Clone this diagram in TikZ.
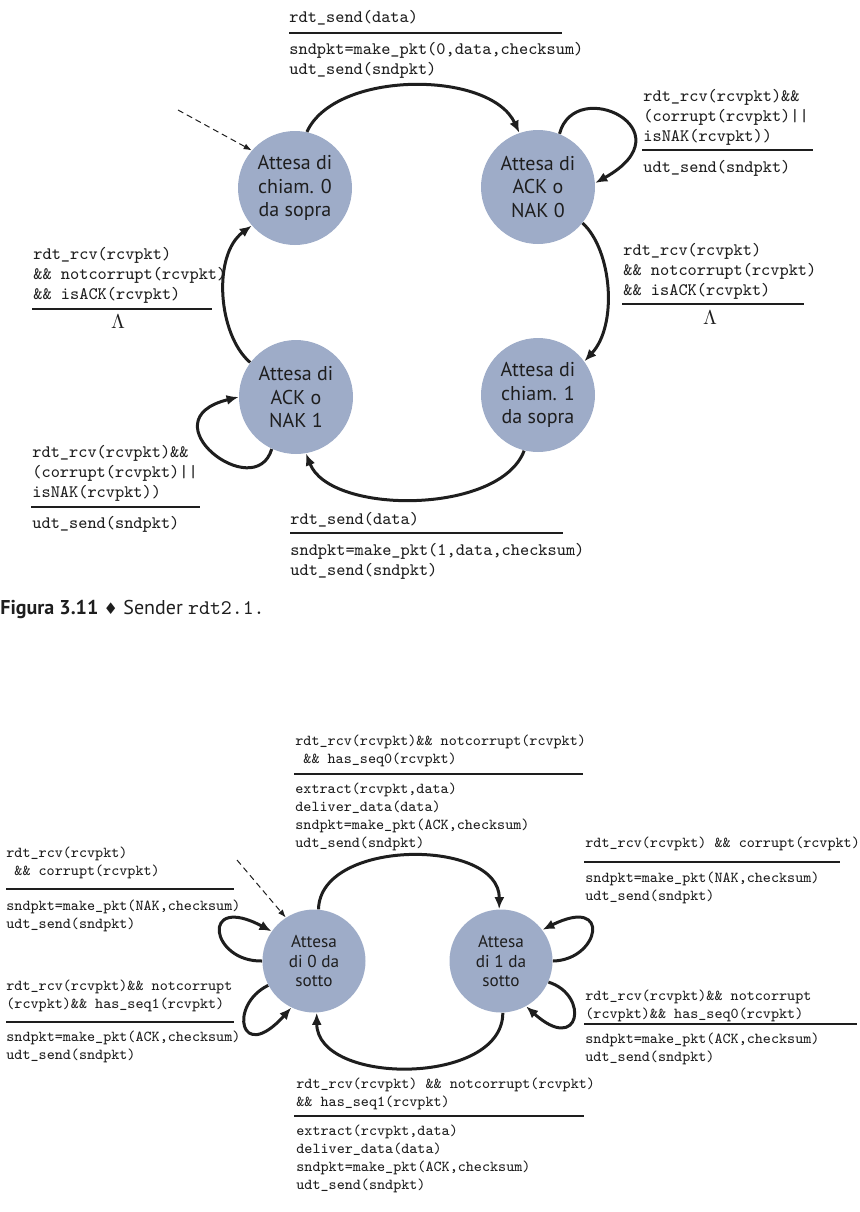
\documentclass[tikz,border=0pt]{standalone}
\usepackage{fontspec}
\setsansfont{PT Sans}
\newfontfamily\symbfont{DejaVu Sans}
\usetikzlibrary{arrows.meta,calc}
\definecolor{statefill}{RGB}{158,172,200}
\definecolor{ink}{RGB}{30,30,30}

\begin{document}
\begin{tikzpicture}[
    x=0.5pt, y=-0.5pt,
    fsmstate/.style={
      circle,
      fill=statefill,
      inner sep=0pt,
      minimum size=57pt,
      align=center,
      text=ink,
      font=\sffamily\fontsize{10}{11.8}\selectfont
    },
    fsmsmall/.style={
      fsmstate,
      minimum size=51.5pt,
      font=\sffamily\fontsize{8.6}{9.8}\selectfont
    },
    guard/.style={
      anchor=north west,
      inner sep=0pt,
      align=left,
      text=ink,
      font=\ttfamily\fontsize{8.75}{10}\selectfont
    },
    sguard/.style={guard, font=\ttfamily\fontsize{7.6}{9}\selectfont},
    guardline/.style={line width=0.9pt, draw=ink},
    trans/.style={line width=1.5pt, draw=ink, -{Latex[length=6pt,width=5pt]}},
    initarr/.style={line width=0.5pt, draw=ink, dash pattern=on 3pt off 2pt,
      -{Latex[length=4pt,width=3pt]}}
  ]

  \useasboundingbox (0,0) rectangle (860,1212);

  % Sender: four states on a square
  \node[fsmstate] (c0) at (295,188) {Attesa di\\chiam. 0\\da sopra};
  \node[fsmstate] (k0) at (538,187) {Attesa di\\ACK o\\NAK 0};
  \node[fsmstate] (k1) at (296,397) {Attesa di\\ACK o\\NAK 1};
  \node[fsmstate] (c1) at (538,395) {Attesa di\\chiam. 1\\da sopra};

  % Sender transitions
  \coordinate (start0) at (178,110);
  \draw[initarr] (start0) -- (c0.139);
  \draw[trans] (c0.78) .. controls (335,70) and (490,70) .. (k0.109);
  \draw[trans] (k0.68) .. controls (575,75) and (690,130) .. (k0.4);
  \draw[trans] (k0.-39) .. controls (612,250) and (618,325) .. (c1.36);
  \draw[trans] (c1.-104) .. controls (500,515) and (330,515) .. (k1.-80);
  \draw[trans] (k1.-115) .. controls (255,505) and (145,420) .. (k1.180);
  \draw[trans] (k1.143) .. controls (218,335) and (212,255) .. (c0.-139);

  % Sender labels
  \node[guard] (gs0) at (289,10) {rdt\_send(data)};
  \draw[guardline] (289,33) -- (562,33);
  \node[guard] (as0) at (289,42) {sndpkt=make\_pkt(0,data,checksum)\\udt\_send(sndpkt)};

  \node[guard] (gn0) at (643,89) {rdt\_rcv(rcvpkt)\&\&\\(corrupt(rcvpkt)||\\isNAK(rcvpkt))};
  \draw[guardline] (642,150) -- (813,150);
  \node[guard] (an0) at (643,160) {udt\_send(sndpkt)};

  \node[guard] (ga1) at (33,247) {rdt\_rcv(rcvpkt)\\\&\& notcorrupt(rcvpkt)\\\&\& isACK(rcvpkt)};
  \draw[guardline] (32,309) -- (212,309);
  \node[text=ink, inner sep=0pt] (la1) at (118,322) {$\Lambda$};

  \node[guard] (ga0) at (623,243) {rdt\_rcv(rcvpkt)\\\&\& notcorrupt(rcvpkt)\\\&\& isACK(rcvpkt)};
  \draw[guardline] (622,304) -- (804,304);
  \node[text=ink, inner sep=0pt] (la0) at (710,318) {$\Lambda$};

  \node[guard] (gn1) at (32,445) {rdt\_rcv(rcvpkt)\&\&\\(corrupt(rcvpkt)||\\isNAK(rcvpkt))};
  \draw[guardline] (31,507) -- (200,507);
  \node[guard] (an1) at (32,516) {udt\_send(sndpkt)};

  \node[guard] (gs1) at (290,512) {rdt\_send(data)};
  \draw[guardline] (290,533) -- (563,533);
  \node[guard] (as1) at (290,543) {sndpkt=make\_pkt(1,data,checksum)\\udt\_send(sndpkt)};

  \node[anchor=base west, inner sep=0pt, text=ink, font=\sffamily\fontsize{10}{12}\selectfont]
    (cap) at (0,614) {\textbf{Figura 3.11} {\symbfont\fontsize{8}{9}\selectfont ♦} Sender
    {\ttfamily\fontsize{10.4}{12}\selectfont rdt2.1.}};

  % Receiver: two states
  \node[fsmsmall] (r0) at (314,961) {Attesa\\di 0 da\\sotto};
  \node[fsmsmall] (r1) at (501,961) {Attesa\\di 1 da\\sotto};

  % Receiver transitions
  \coordinate (start1) at (237,860);
  \draw[initarr] (start1) -- (r0.123);
  \draw[trans] (r0.85) .. controls (320,838) and (500,838) .. (r1.92);
  \draw[trans] (r1.-88) .. controls (503,1086) and (317,1086) .. (r0.-87);
  \draw[trans] (r0.180) .. controls (210,962) and (200,893) .. (r0.145);
  \draw[trans] (r0.-152) .. controls (228,1005) and (240,1065) .. (r0.-116);
  \draw[trans] (r1.0) .. controls (600,960) and (612,895) .. (r1.37);
  \draw[trans] (r1.-24) .. controls (590,995) and (580,1055) .. (r1.-61);

  % Receiver labels
  \node[sguard] (gq0) at (295,735) {rdt\_rcv(rcvpkt)\&\& notcorrupt(rcvpkt)\\~\&\& has\_seq0(rcvpkt)};
  \draw[guardline] (294,774) -- (583,774);
  \node[sguard] (aq0) at (295,783) {extract(rcvpkt,data)\\deliver\_data(data)\\sndpkt=make\_pkt(ACK,checksum)\\udt\_send(sndpkt)};

  \node[sguard] (gc0) at (6,847) {rdt\_rcv(rcvpkt)\\~\&\& corrupt(rcvpkt)};
  \draw[guardline] (6,889) -- (234,889);
  \node[sguard] (ac0) at (6,900) {sndpkt=make\_pkt(NAK,checksum)\\udt\_send(sndpkt)};

  \node[sguard] (gc1) at (585,837) {rdt\_rcv(rcvpkt) \&\& corrupt(rcvpkt)};
  \draw[guardline] (584,862) -- (840,862);
  \node[sguard] (ac1) at (585,872) {sndpkt=make\_pkt(NAK,checksum)\\udt\_send(sndpkt)};

  \node[sguard] (gd1) at (6,980) {rdt\_rcv(rcvpkt)\&\& notcorrupt\\(rcvpkt)\&\& has\_seq1(rcvpkt)};
  \draw[guardline] (6,1022) -- (234,1022);
  \node[sguard] (ad1) at (6,1031) {sndpkt=make\_pkt(ACK,checksum)\\udt\_send(sndpkt)};

  \node[sguard] (gd0) at (585,990) {rdt\_rcv(rcvpkt)\&\& notcorrupt\\(rcvpkt)\&\& has\_seq0(rcvpkt)};
  \draw[guardline] (584,1024) -- (857,1024);
  \node[sguard] (ad0) at (585,1033) {sndpkt=make\_pkt(ACK,checksum)\\udt\_send(sndpkt)};

  \node[sguard] (gq1) at (296,1078) {rdt\_rcv(rcvpkt) \&\& notcorrupt(rcvpkt)\\\&\& has\_seq1(rcvpkt)};
  \draw[guardline] (294,1116) -- (584,1116);
  \node[sguard] (aq1) at (296,1125) {extract(rcvpkt,data)\\deliver\_data(data)\\sndpkt=make\_pkt(ACK,checksum)\\udt\_send(sndpkt)};

\end{tikzpicture}
\end{document}
